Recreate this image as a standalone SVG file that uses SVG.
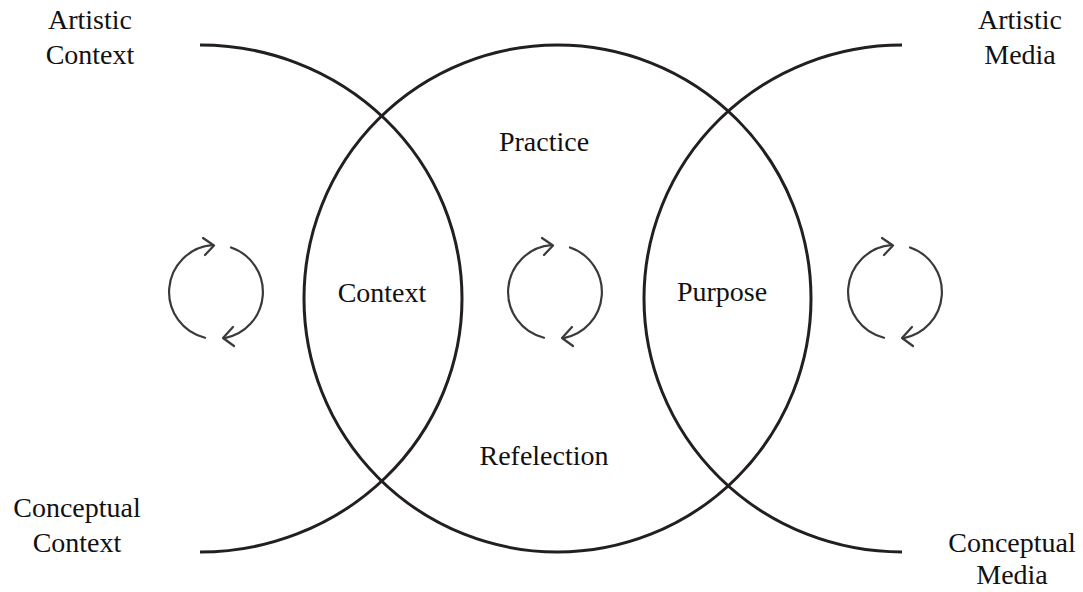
<svg xmlns="http://www.w3.org/2000/svg" xmlns:xlink="http://www.w3.org/1999/xlink" width="1083" height="592" viewBox="0 0 1083 592">
  <style>
    .ring { fill: none; stroke: #231f20; stroke-width: 3; }
    .cyc { fill: none; stroke: #3a3a3a; stroke-width: 2.2; stroke-linecap: round; stroke-linejoin: round; }
    text { font-family: "Liberation Serif", "Times New Roman", serif; font-size: 28px; fill: #111; text-anchor: middle; }
  </style>
  <defs>
    <g id="cycle">
      <path class="cyc" d="M -11,45.7 A 47 47 0 0 1 -4,-46.8"/>
      <path class="cyc" d="M -13,-54 L -2,-46.5 L -11,-37"/>
      <path class="cyc" d="M 15,-44.5 A 47 47 0 0 1 8,46.3"/>
      <path class="cyc" d="M 17,35 L 7,46 L 18,54"/>
    </g>
  </defs>
  <rect width="1083" height="592" fill="#ffffff"/>
  <g id="left-arc">
    <path class="ring" d="M 200,45 A 262 253.5 0 0 1 200,552"/>
  </g>
  <g id="center-circle">
    <circle class="ring" cx="557.5" cy="298.5" r="253.5"/>
  </g>
  <g id="right-arc">
    <path class="ring" d="M 902,45 A 258 253.5 0 0 0 902,552"/>
  </g>
  <g id="connectors">
    <use xlink:href="#cycle" href="#cycle" transform="translate(216,292)"/>
    <use xlink:href="#cycle" href="#cycle" transform="translate(555,292)"/>
    <use xlink:href="#cycle" href="#cycle" transform="translate(895,292)"/>
  </g>
  <g id="label-artistic-context">
    <text x="90" y="29">Artistic</text>
    <text x="90" y="64">Context</text>
  </g>
  <g id="label-conceptual-context">
    <text x="77" y="517">Conceptual</text>
    <text x="77" y="552">Context</text>
  </g>
  <g id="label-artistic-media">
    <text x="1020" y="29">Artistic</text>
    <text x="1020" y="64">Media</text>
  </g>
  <g id="label-conceptual-media">
    <text x="1012" y="552">Conceptual</text>
    <text x="1012" y="584">Media</text>
  </g>
  <g id="label-practice"><text x="544" y="151">Practice</text></g>
  <g id="label-context"><text x="382" y="302">Context</text></g>
  <g id="label-purpose"><text x="722" y="301">Purpose</text></g>
  <g id="label-refelection"><text x="544" y="465">Refelection</text></g>
</svg>
